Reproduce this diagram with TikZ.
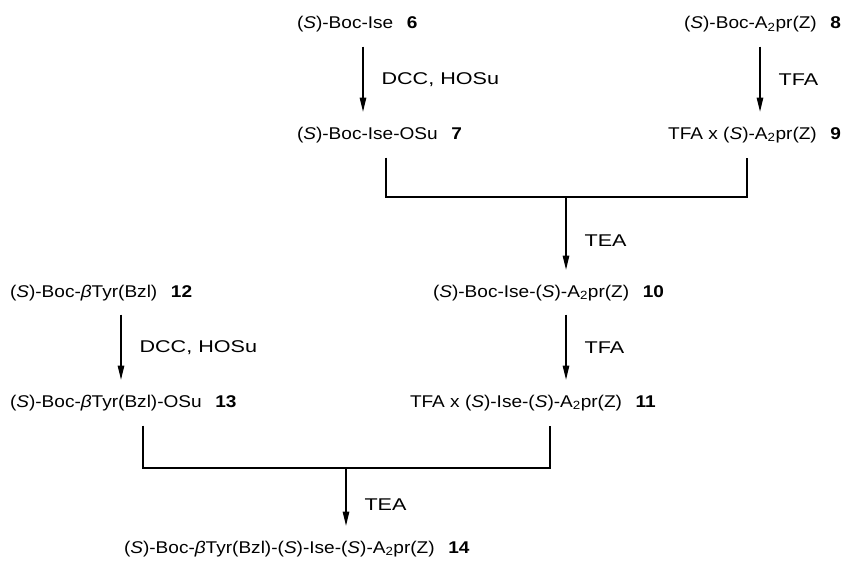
\documentclass[tikz,border=0pt]{standalone}
\usepackage{fontspec}
\setmainfont{Liberation Sans}[FakeStretch=1.12]
\newfontfamily\condfont{Liberation Sans}[FakeStretch=1.27]
\usepackage{tikz}
\usetikzlibrary{arrows.meta}

\newcommand{\cpd}[1]{\hspace{0.8em}\textbf{#1}}
\newcommand{\Sconf}{(\textit{S})}
\newcommand{\Adpr}{A\textsubscript{2}pr(Z)}

\begin{document}
\begin{tikzpicture}[x=1pt, y=-1pt,
  cmpd/.style={inner sep=0, outer sep=0, font=\fontsize{17}{20}\selectfont},
  cond/.style={anchor=west, inner sep=0, xshift=18pt, font=\condfont\fontsize{17}{20}\selectfont},
  rxn/.style={-{Triangle[length=14pt,width=6.5pt]}, line width=1.1pt, shorten <=14pt, shorten >=15pt},
  bond/.style={line width=1.1pt, shorten <=15pt, shorten >=15pt}]
\useasboundingbox[fill=white] (0,0) rectangle (842,567);
% x positions of arrows and brackets
\coordinate (a1) at (363,0);
\coordinate (a2) at (760,0);
\coordinate (a5) at (121,0);
\coordinate (b1) at (386,0);
\coordinate (b2) at (747,0);
\coordinate (b3) at (143,0);
\coordinate (b4) at (550,0);
\coordinate (j1) at (566,197);
\coordinate (j2) at (346,468);
% compounds
\node[cmpd, anchor=base west] (n6) at (297,29) {\Sconf-Boc-Ise\cpd{6}};
\node[cmpd, anchor=base west] (n7) at (297,139) {\Sconf-Boc-Ise-OSu\cpd{7}};
\node[cmpd, anchor=base east] (n8) at (841,29) {\Sconf-Boc-\Adpr\cpd{8}};
\node[cmpd, anchor=base east] (n9) at (841,139) {TFA x \Sconf-\Adpr\cpd{9}};
\node[cmpd, anchor=base west] (n10) at (433,297) {\Sconf-Boc-Ise-\Sconf-\Adpr\cpd{10}};
\node[cmpd, anchor=base west] (n11) at (410,407) {TFA x \Sconf-Ise-\Sconf-\Adpr\cpd{11}};
\node[cmpd, anchor=base west] (n12) at (10,297) {\Sconf-Boc-\textit{β}Tyr(Bzl)\cpd{12}};
\node[cmpd, anchor=base west] (n13) at (10,407) {\Sconf-Boc-\textit{β}Tyr(Bzl)-OSu\cpd{13}};
\node[cmpd, anchor=base west] (n14) at (124,553) {\Sconf-Boc-\textit{β}Tyr(Bzl)-\Sconf-Ise-\Sconf-\Adpr\cpd{14}};
% steps
\draw[rxn] (n6.south -| a1) -- node[cond]{DCC, HOSu} (n7.north -| a1);
\draw[rxn] (n8.south -| a2) -- node[cond]{TFA} (n9.north -| a2);
\draw[bond] (n7.south -| b1) |- (j1) -| (n9.south -| b2);
\draw[rxn, shorten <=0pt] (j1) -- node[cond]{TEA} (n10.north -| j1);
\draw[rxn] (n10.south -| j1) -- node[cond]{TFA} (n11.north -| j1);
\draw[rxn] (n12.south -| a5) -- node[cond]{DCC, HOSu} (n13.north -| a5);
\draw[bond] (n13.south -| b3) |- (j2) -| (n11.south -| b4);
\draw[rxn, shorten <=0pt] (j2) -- node[cond]{TEA} (n14.north -| j2);
\end{tikzpicture}
\end{document}
